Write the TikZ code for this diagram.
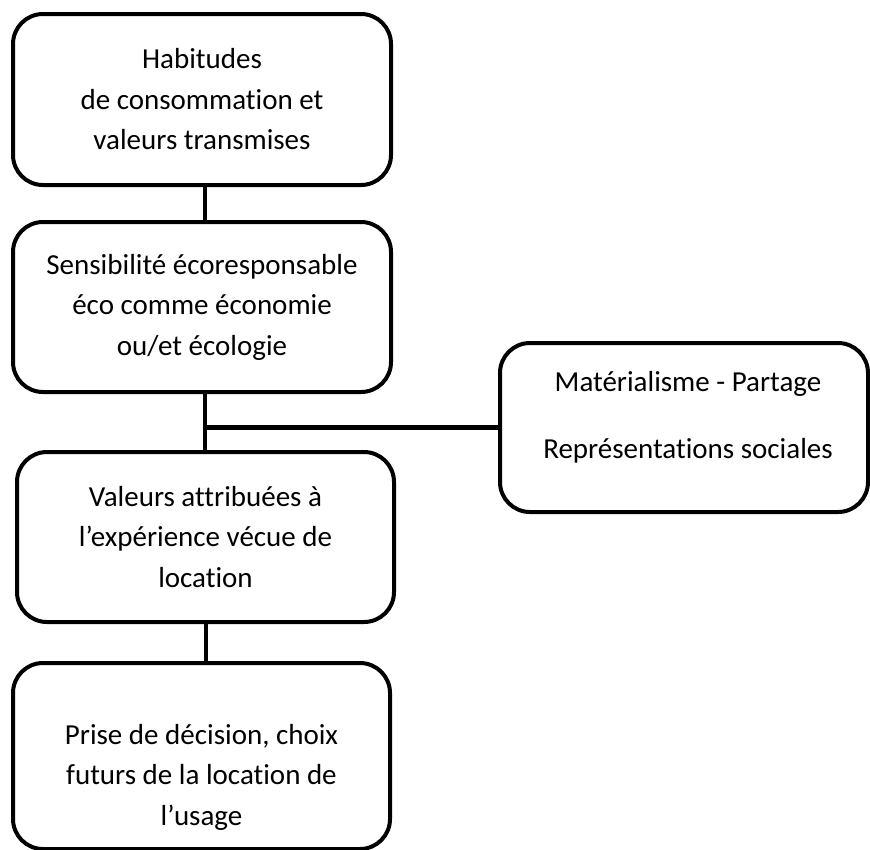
\documentclass[tikz,border=0pt]{standalone}
\usepackage{fontspec}
\setmainfont[RawFeature={-liga;-clig}]{Carlito}
\begin{document}
\begin{tikzpicture}[x=1pt,y=-1pt,
  box/.style={draw=black,line width=4pt,rounded corners=30pt,inner sep=0pt,
    align=center,font=\fontsize{29}{40.5}\selectfont},
  txt/.style={inner sep=0pt,align=center,font=\fontsize{29}{40.5}\selectfont},
  link/.style={draw=black,line width=4.5pt}]
\useasboundingbox (0,0) rectangle (870,849);
\node[box,minimum width=378pt,minimum height=171pt] (b1) at (202,99.5)
  {Habitudes\\de consommation et\\valeurs transmises};
\node[box,minimum width=378pt,minimum height=170pt] (b2) at (202,307)
  {Sensibilité écoresponsable\\éco comme économie\\ou/et écologie};
\node[box,minimum width=377pt,minimum height=170pt] (b3) at (205.5,537)
  {Valeurs attribuées à\\l’expérience vécue de\\location};
\node[box,minimum width=377pt,minimum height=186pt] (b4) at (201.5,756) {};
\node[txt] (t4) at ([yshift=-21pt]b4.center)
  {Prise de décision, choix\\futurs de la location de\\l’usage};
\node[box,minimum width=368pt,minimum height=169pt] (r) at (684,427.5) {};
\node[txt] (tr) at ([xshift=4pt,yshift=10pt]r.center)
  {Matérialisme - Partage\\[26.5pt]Représentations sociales};
\coordinate (j) at (205,427.5);
\draw[link] ([xshift=3pt]b1.south) -- ([xshift=3pt]b1.south |- b2.north);
\draw[link] (j |- b2.south) -- (j |- b3.north);
\draw[link] (j) -- (r.west);
\draw[link] ([xshift=0.5pt]b3.south) -- ([xshift=0.5pt]b3.south |- b4.north);
\end{tikzpicture}
\end{document}
